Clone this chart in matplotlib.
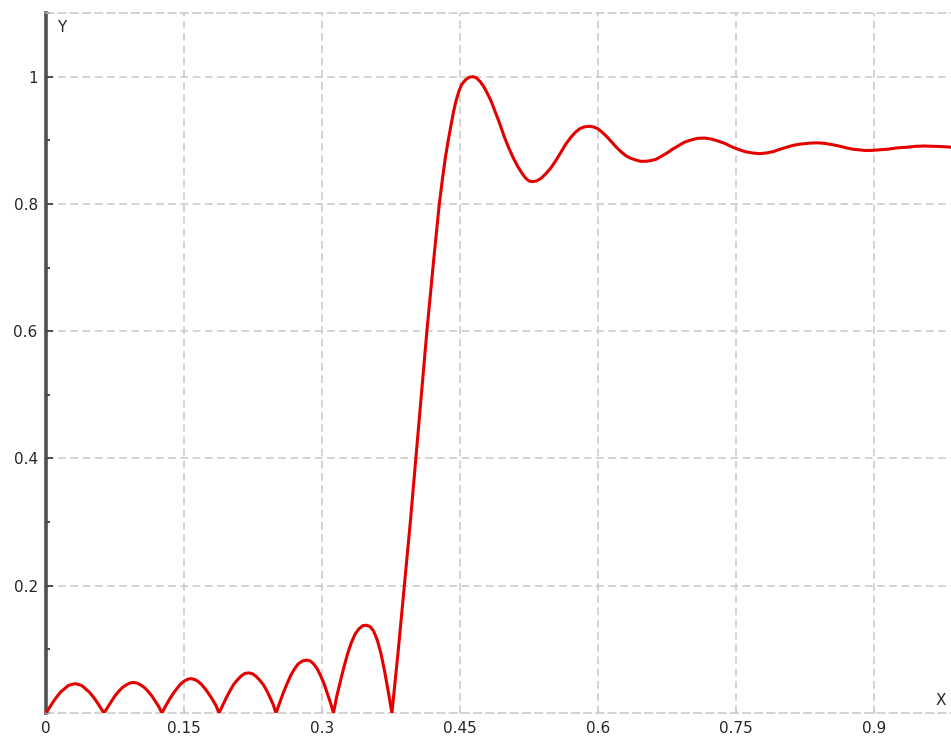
import matplotlib
matplotlib.use("Agg")
import matplotlib.pyplot as plt
from matplotlib.ticker import MultipleLocator

# stopband side lobes: frequency and |H|
stop_freq = [
    0.000, 0.004, 0.008, 0.012, 0.016, 0.020, 0.024, 0.028, 0.032,
    0.035, 0.039, 0.043, 0.047, 0.051, 0.055, 0.059, 0.063,
    0.067, 0.071, 0.075, 0.079, 0.083, 0.087, 0.091, 0.095,
    0.099, 0.103, 0.107, 0.111, 0.115, 0.119, 0.123, 0.126,
    0.130, 0.134, 0.138, 0.142, 0.146, 0.150, 0.154, 0.157,
    0.161, 0.165, 0.169, 0.173, 0.177, 0.181, 0.185, 0.188,
    0.192, 0.196, 0.200, 0.204, 0.208, 0.212, 0.216, 0.220,
    0.224, 0.228, 0.232, 0.236, 0.240, 0.243, 0.247, 0.250,
    0.254, 0.258, 0.262, 0.266, 0.270, 0.274, 0.279, 0.283,
    0.287, 0.291, 0.295, 0.298, 0.302, 0.305, 0.309, 0.3125,
    0.316, 0.320, 0.324, 0.328, 0.332, 0.336, 0.340, 0.344, 0.348,
    0.352, 0.356, 0.360, 0.364, 0.368, 0.372, 0.376,
]
stop_mag = [
    0.000, 0.009, 0.018, 0.026, 0.033, 0.038, 0.043, 0.045, 0.046,
    0.045, 0.043, 0.038, 0.033, 0.026, 0.018, 0.009, 0.000,
    0.009, 0.018, 0.027, 0.034, 0.040, 0.044, 0.047, 0.048,
    0.047, 0.044, 0.040, 0.034, 0.027, 0.018, 0.009, 0.000,
    0.011, 0.021, 0.030, 0.038, 0.045, 0.050, 0.053, 0.054,
    0.053, 0.050, 0.045, 0.038, 0.030, 0.021, 0.011, 0.000,
    0.012, 0.024, 0.035, 0.045, 0.052, 0.058, 0.062, 0.063,
    0.062, 0.058, 0.052, 0.045, 0.035, 0.026, 0.013, 0.000,
    0.016, 0.032, 0.046, 0.059, 0.069, 0.077, 0.082, 0.083,
    0.082, 0.077, 0.069, 0.060, 0.047, 0.034, 0.017, 0.000,
    0.026, 0.050, 0.073, 0.094, 0.111, 0.124, 0.132, 0.137, 0.138,
    0.136, 0.129, 0.115, 0.094, 0.066, 0.034, 0.000,
]

# transition band and passband ripple
pass_freq = [
    0.383, 0.3895, 0.396, 0.402, 0.408, 0.414, 0.4214, 0.4275,
    0.431, 0.434, 0.437, 0.440, 0.443, 0.4457, 0.449, 0.452,
    0.456, 0.460, 0.464, 0.468, 0.472, 0.476, 0.480, 0.4837,
    0.488, 0.493, 0.498, 0.503, 0.508, 0.5127, 0.517, 0.521,
    0.525, 0.529, 0.533, 0.538, 0.543, 0.549, 0.555, 0.560,
    0.565, 0.5707, 0.575, 0.580, 0.585, 0.5906, 0.595, 0.600,
    0.605, 0.610, 0.615, 0.620, 0.625, 0.630, 0.635, 0.641,
    0.646, 0.652, 0.657, 0.663, 0.669, 0.675, 0.681, 0.688,
    0.694, 0.700, 0.708, 0.7156, 0.723, 0.730, 0.738, 0.745,
    0.752, 0.760, 0.768, 0.7754, 0.783, 0.790, 0.798, 0.805,
    0.812, 0.820, 0.830, 0.839, 0.847, 0.855, 0.862, 0.870,
    0.877, 0.884, 0.890, 0.897, 0.906, 0.915, 0.925, 0.935,
    0.945, 0.955, 0.965, 0.975, 0.985,
]
pass_mag = [
    0.100, 0.200, 0.300, 0.400, 0.500, 0.600, 0.712, 0.800,
    0.840, 0.872, 0.898, 0.922, 0.945, 0.962, 0.978, 0.988,
    0.995, 0.999, 1.000, 0.998, 0.992, 0.984, 0.973, 0.962,
    0.946, 0.927, 0.906, 0.888, 0.872, 0.859, 0.849, 0.841,
    0.836, 0.835, 0.836, 0.840, 0.847, 0.857, 0.870, 0.882,
    0.894, 0.905, 0.912, 0.918, 0.921, 0.922, 0.921, 0.918,
    0.912, 0.905, 0.897, 0.889, 0.882, 0.876, 0.872, 0.869,
    0.867, 0.867, 0.868, 0.870, 0.875, 0.880, 0.886, 0.892,
    0.897, 0.900, 0.903, 0.9035, 0.902, 0.899, 0.895, 0.890,
    0.886, 0.882, 0.880, 0.879, 0.880, 0.882, 0.886, 0.889,
    0.892, 0.894, 0.8955, 0.896, 0.895, 0.893, 0.891, 0.888,
    0.886, 0.885, 0.884, 0.884, 0.885, 0.886, 0.888, 0.889,
    0.8905, 0.891, 0.8905, 0.890, 0.889,
]

xticks = [0, 0.15, 0.3, 0.45, 0.6, 0.75, 0.9]
xtick_labels = ["0", "0.15", "0.3", "0.45", "0.6", "0.75", "0.9"]
yticks = [0.2, 0.4, 0.6, 0.8, 1.0]
ytick_labels = ["0.2", "0.4", "0.6", "0.8", "1"]

assert len(stop_freq) == len(stop_mag)
assert len(pass_freq) == len(pass_mag)

fig = plt.figure(figsize=(9.51, 7.45), dpi=100)
ax = fig.add_axes([46 / 951, 32 / 745, 1 - 46 / 951, 700 / 745])

grid_col = "#c8c8c8"
text_col = "#262626"
dash = (0, (5, 3))
ax.plot(stop_freq + pass_freq, stop_mag + pass_mag, color="#e50000",
        linewidth=2.2, solid_joinstyle="round", zorder=3)

ax.set_xlim(0, 905 / 920)
ax.set_ylim(0, 1.1)

ax.set_xticks(xticks)
ax.set_xticklabels(xtick_labels)
ax.set_yticks(yticks)
ax.set_yticklabels(ytick_labels)
ax.yaxis.set_minor_locator(MultipleLocator(0.1))

ax.grid(True, which="major", color=grid_col, linestyle=dash, linewidth=1.1)
ax.set_axisbelow(True)

ax.spines["right"].set_visible(False)
for s in ["top", "bottom"]:
    ax.spines[s].set_color(grid_col)
    ax.spines[s].set_linestyle(dash)
    ax.spines[s].set_linewidth(1.1)
ax.spines["left"].set_color("#505050")
ax.spines["left"].set_linewidth(2.6)

ax.tick_params(axis="y", which="major", direction="in", length=5, width=1.5,
               color="#505050", labelsize=11, labelcolor=text_col, pad=6)
ax.tick_params(axis="y", which="minor", direction="in", length=3, width=1.5,
               color="#505050")
ax.tick_params(axis="x", which="major", direction="in", length=3, width=1,
               color=grid_col, labelsize=11, labelcolor=text_col, pad=6)

ax.text(0.012, 1.078, "Y", fontsize=11, color=text_col,
        va="center", ha="left")
ax.text(0.983, 0.02, "X", transform=ax.get_yaxis_transform(), fontsize=11,
        color=text_col, va="center", ha="left", clip_on=False)

fig.savefig("out.png", dpi=100)
